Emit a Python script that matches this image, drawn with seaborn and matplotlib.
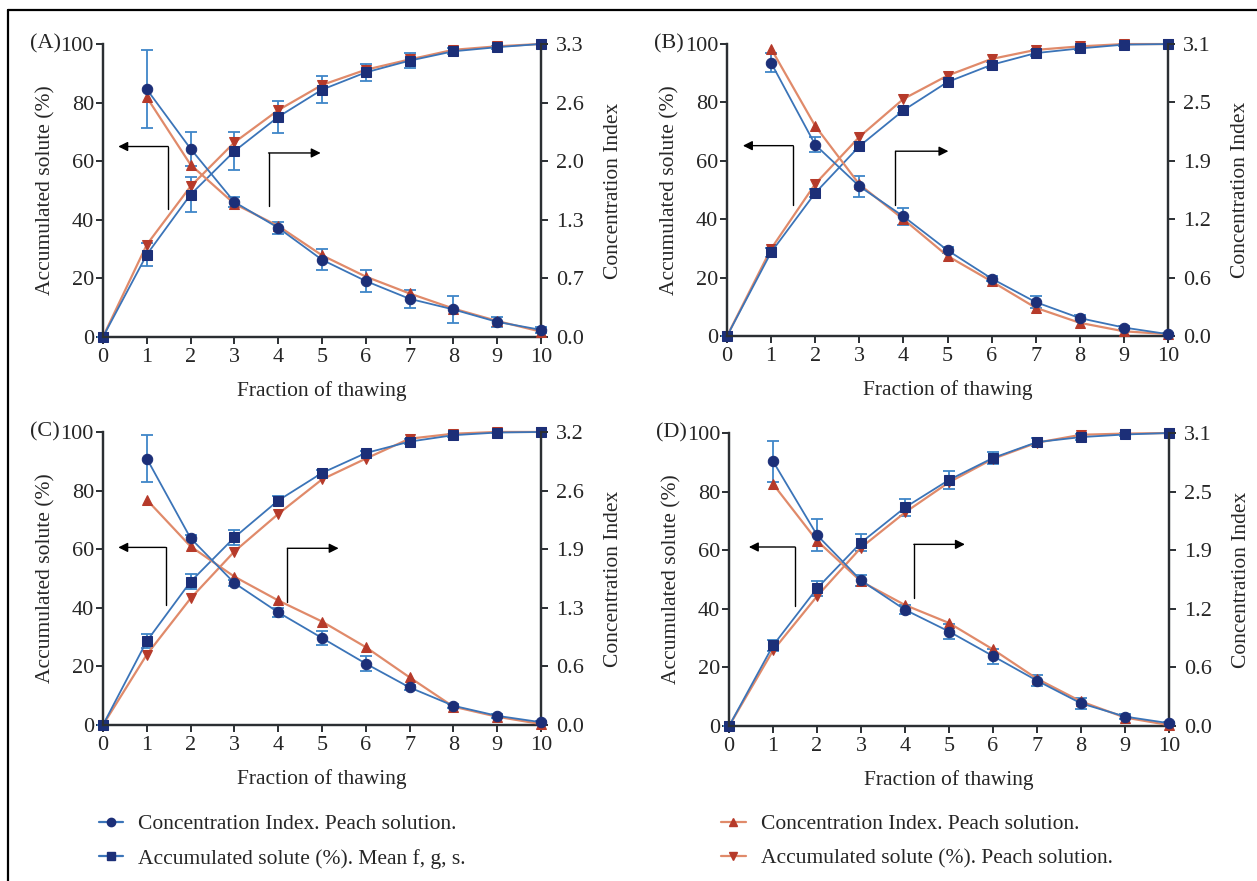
import numpy as np
import matplotlib
matplotlib.use("Agg")
import matplotlib.pyplot as plt
from matplotlib.lines import Line2D
import seaborn as sns

# x positions (fraction of thawing)
fractions = list(range(0, 11))
fractions_ci = list(range(1, 11))

# ---- Panel A ----
a_ci_max = 3.3
a_ci_blue = [2.79, 2.12, 1.52, 1.23, 0.87, 0.63, 0.43, 0.31, 0.17, 0.08]
a_ci_blue_err = [0.44, 0.19, 0.06, 0.07, 0.12, 0.12, 0.10, 0.15, 0.06, 0.03]
a_ci_orange = [2.70, 1.94, 1.50, 1.25, 0.92, 0.68, 0.49, 0.32, 0.18, 0.06]
a_acc_blue = [0, 28.1, 48.6, 63.4, 75.1, 84.4, 90.3, 94.3, 97.5, 98.9, 100]
a_acc_blue_err = [0, 4, 6, 6.5, 5.5, 4.5, 3, 2.5, 1, 0.5, 0]
a_acc_orange = [0, 31.5, 51.4, 66.4, 77.4, 86, 91.2, 94.7, 98, 99.2, 100]

# ---- Panel B ----
b_ci_max = 3.1
b_ci_blue = [2.90, 2.03, 1.59, 1.27, 0.91, 0.61, 0.36, 0.19, 0.09, 0.02]
b_ci_blue_err = [0.10, 0.08, 0.11, 0.09, 0.03, 0.03, 0.06, 0.03, 0.02, 0.01]
b_ci_orange = [3.05, 2.23, 1.61, 1.24, 0.85, 0.58, 0.30, 0.14, 0.05, 0.02]
b_acc_blue = [0, 28.7, 49, 65, 77.3, 87, 92.9, 96.9, 98.5, 99.8, 100]
b_acc_blue_err = [0, 1.5, 1.5, 1.5, 1, 1, 1, 1, 0.5, 0.3, 0]
b_acc_orange = [0, 29.9, 52.1, 68.2, 81.2, 89.2, 94.9, 98, 99.2, 100, 100]

# ---- Panel C ----
c_ci_max = 3.2
c_ci_blue = [2.91, 2.04, 1.55, 1.23, 0.95, 0.67, 0.41, 0.21, 0.10, 0.03]
c_ci_blue_err = [0.26, 0.03, 0.03, 0.05, 0.08, 0.08, 0.03, 0.02, 0.02, 0.01]
c_ci_orange = [2.46, 1.95, 1.62, 1.36, 1.13, 0.85, 0.52, 0.20, 0.09, 0.01]
c_acc_blue = [0, 28.6, 48.9, 64, 76.6, 86, 92.8, 96.7, 98.9, 99.8, 100]
c_acc_blue_err = [0, 2.5, 2.5, 2.5, 1.5, 1, 0.8, 0.8, 0.5, 0.3, 0]
c_acc_orange = [0, 24, 43.2, 59.2, 72, 83.8, 90.9, 97.7, 99.4, 100, 100]

# ---- Panel D ----
d_ci_max = 3.1
d_ci_blue = [2.80, 2.02, 1.54, 1.23, 1.00, 0.74, 0.48, 0.24, 0.10, 0.03]
d_ci_blue_err = [0.22, 0.17, 0.06, 0.05, 0.08, 0.08, 0.06, 0.06, 0.03, 0.01]
d_ci_orange = [2.56, 1.96, 1.53, 1.28, 1.09, 0.81, 0.50, 0.26, 0.09, 0.01]
d_acc_blue = [0, 27.5, 47, 62.6, 74.6, 84, 91.5, 96.9, 98.6, 99.5, 100]
d_acc_blue_err = [0, 2, 2.5, 3, 3, 3, 2, 1.5, 1, 0.5, 0]
d_acc_orange = [0, 25.8, 44.3, 60.9, 72.9, 83.2, 91.2, 96.7, 99.4, 99.8, 100]

panel_letters = ["(A)", "(B)", "(C)", "(D)"]
legend_labels = ["Concentration Index. Peach solution.",
                 "Accumulated solute (%). Mean f, g, s.",
                 "Concentration Index. Peach solution.",
                 "Accumulated solute (%). Peach solution."]

# arrow guides: (vertical x, y bottom, y top, horizontal end x)
left_arrows = [(1.49, 43.7, 65.0, 0.35), (1.50, 44.8, 65.2, 0.36),
               (1.43, 40.9, 60.6, 0.35), (1.50, 40.9, 61.1, 0.45)]
right_arrows = [(3.78, 44.6, 62.8, 4.97), (3.82, 44.8, 63.3, 5.02),
                (4.21, 42.0, 60.3, 5.38), (4.20, 43.8, 62.0, 5.36)]

panels = [
    (a_ci_max, a_ci_blue, a_ci_blue_err, a_ci_orange, a_acc_blue, a_acc_blue_err, a_acc_orange),
    (b_ci_max, b_ci_blue, b_ci_blue_err, b_ci_orange, b_acc_blue, b_acc_blue_err, b_acc_orange),
    (c_ci_max, c_ci_blue, c_ci_blue_err, c_ci_orange, c_acc_blue, c_acc_blue_err, c_acc_orange),
    (d_ci_max, d_ci_blue, d_ci_blue_err, d_ci_orange, d_acc_blue, d_acc_blue_err, d_acc_orange),
]

# axes rectangles in figure fraction
positions = [
    [0.0819, 0.6175, 0.3485, 0.3326],
    [0.5784, 0.6186, 0.3508, 0.3314],
    [0.0819, 0.1771, 0.3485, 0.3326],
    [0.5800, 0.1759, 0.3500, 0.3326],
]

sns.set_theme(style="ticks")
plt.rcParams["font.family"] = ["Liberation Serif", "DejaVu Serif"]

FS_TICK = 16
FS = 15.5
blue_line = "#3b74b8"
blue_mark = "#1c2f78"
blue_err = "#3f86c8"
orange_line = "#e08a6a"
orange_mark = "#b63a2a"
spine_col = "#2b2f33"

fig = plt.figure(figsize=(12.57, 8.81), dpi=100)

for i, (ci_max, ci_b, ci_b_err, ci_o, acc_b, acc_b_err, acc_o) in enumerate(panels):
    ax = fig.add_axes(positions[i])
    ax2 = ax.twinx()

    # accumulated solute (left axis)
    ax.errorbar(fractions, acc_b, yerr=acc_b_err, fmt="none", ecolor=blue_err,
                elinewidth=1.3, capsize=4, capthick=1.3, zorder=2, clip_on=False)
    sns.lineplot(x=fractions, y=acc_o, ax=ax, color=orange_line, lw=1.6, marker="v",
                 markersize=7, markerfacecolor=orange_mark, markeredgecolor=orange_mark,
                 zorder=3, clip_on=False)
    sns.lineplot(x=fractions, y=acc_b, ax=ax, color=blue_line, lw=1.3, marker="s",
                 markersize=7, markerfacecolor=blue_mark, markeredgecolor=blue_mark,
                 zorder=4, clip_on=False)

    # concentration index (right axis)
    ax2.errorbar(fractions_ci, ci_b, yerr=ci_b_err, fmt="none", ecolor=blue_err,
                 elinewidth=1.3, capsize=4, capthick=1.3, zorder=2, clip_on=False)
    sns.lineplot(x=fractions_ci, y=ci_o, ax=ax2, color=orange_line, lw=1.6, marker="^",
                 markersize=7, markerfacecolor=orange_mark, markeredgecolor=orange_mark,
                 zorder=3, clip_on=False)
    sns.lineplot(x=fractions_ci, y=ci_b, ax=ax2, color=blue_line, lw=1.3, marker="o",
                 markersize=7.5, markerfacecolor=blue_mark, markeredgecolor=blue_mark,
                 zorder=4, clip_on=False)

    ax.set_xlim(0, 10)
    ax.set_ylim(0, 100)
    ax2.set_ylim(0, ci_max)
    ax.set_xticks(range(0, 11))
    ax.set_yticks([0, 20, 40, 60, 80, 100])
    ci_ticks = np.linspace(0, ci_max, 6)
    ax2.set_yticks(ci_ticks)
    ax2.set_yticklabels([f"{t:.1f}" for t in ci_ticks])

    for a in (ax, ax2):
        a.spines["top"].set_visible(False)
        for s in ("left", "right", "bottom"):
            a.spines[s].set_color(spine_col)
            a.spines[s].set_linewidth(1.6)
        a.tick_params(axis="both", labelsize=FS_TICK, length=5, width=1.4,
                      color=spine_col, pad=1.5)
    ax.tick_params(axis="x", pad=3)
    ax2.tick_params(axis="y", pad=6)
    ax.set_xlabel("Fraction of thawing", fontsize=FS, labelpad=10)
    ax.set_ylabel("Accumulated solute (%)", fontsize=FS, labelpad=4)
    ax2.set_ylabel("Concentration Index", fontsize=FS, labelpad=14)

    ax.text(-0.166, 1.0, panel_letters[i], transform=ax.transAxes, fontsize=FS_TICK,
            ha="left", va="center")

    # axis pointer arrows
    lx, ly0, ly1, lx_end = left_arrows[i]
    ax.plot([lx, lx], [ly0, ly1], color="black", lw=1.0)
    ax.annotate("", xy=(lx_end, ly1), xytext=(lx, ly1),
                arrowprops=dict(arrowstyle="-|>", color="black", lw=1.0,
                                mutation_scale=14, shrinkA=0, shrinkB=0))
    rx, ry0, ry1, rx_end = right_arrows[i]
    ax.plot([rx, rx], [ry0, ry1], color="black", lw=1.0)
    ax.annotate("", xy=(rx_end, ry1), xytext=(rx, ry1),
                arrowprops=dict(arrowstyle="-|>", color="black", lw=1.0,
                                mutation_scale=14, shrinkA=0, shrinkB=0))

# legends
def handle(line_col, mark_col, marker):
    return Line2D([], [], color=line_col, lw=1.6, marker=marker, markersize=6,
                  markerfacecolor=mark_col, markeredgecolor=mark_col)

left_handles = [handle(blue_line, blue_mark, "o"), handle(blue_line, blue_mark, "s")]
right_handles = [handle(orange_line, orange_mark, "^"), handle(orange_line, orange_mark, "v")]

fig.legend(left_handles, legend_labels[:2], loc="upper left",
           bbox_to_anchor=(0.063, 0.098), frameon=False, fontsize=FS,
           handlelength=1.15, labelspacing=0.67, handletextpad=0.7)
fig.legend(right_handles, legend_labels[2:], loc="upper left",
           bbox_to_anchor=(0.558, 0.098), frameon=False, fontsize=FS,
           handlelength=1.15, labelspacing=0.67, handletextpad=0.7)

# frame lines around the figure (top and left)
fig.add_artist(Line2D([0.0064, 0.0064], [0.0, 0.9886], color="black", lw=1.6))
fig.add_artist(Line2D([0.0064, 1.0], [0.9886, 0.9886], color="black", lw=1.6))

fig.savefig("out.png", dpi=100)
